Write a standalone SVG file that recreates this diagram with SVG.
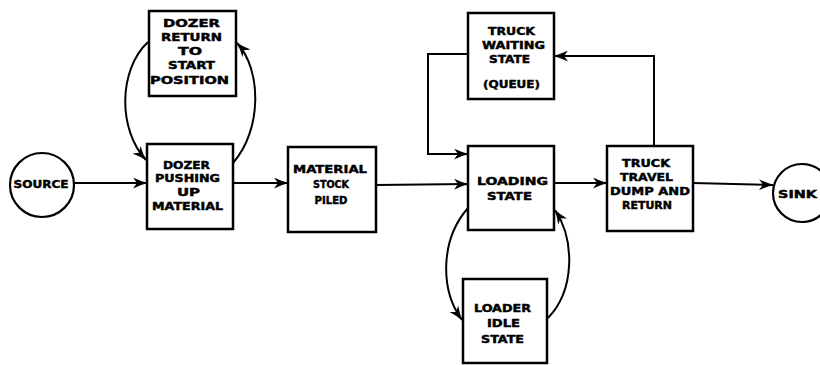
<svg xmlns="http://www.w3.org/2000/svg" width="820" height="365" viewBox="0 0 820 365">
<style>
.box{fill:#fff;stroke:#000;stroke-width:2.5}
.c{fill:#fff;stroke:#000;stroke-width:2.2}
.ln{fill:none;stroke:#000;stroke-width:2}
text{font-family:"DejaVu Sans","Liberation Sans",sans-serif;font-weight:bold;font-size:10.5px;fill:#000;stroke:#000;stroke-width:0.45;text-anchor:middle}
</style>
<defs>
<marker id="ah" viewBox="0 0 15 11" refX="14" refY="5.5" markerWidth="15" markerHeight="11" markerUnits="userSpaceOnUse" orient="auto">
<path d="M0,0 Q8,4 15,5.5 Q8,7 0,11 L4,5.5 z" fill="#000"/>
</marker>
</defs>
<rect width="820" height="365" fill="#fff"/>
<g id="connectors">
<line class="ln" x1="74" y1="183" x2="147" y2="183" marker-end="url(#ah)"/>
<line class="ln" x1="233" y1="183" x2="288" y2="183" marker-end="url(#ah)"/>
<line class="ln" x1="376" y1="185" x2="468" y2="184" marker-end="url(#ah)"/>
<line class="ln" x1="554" y1="183" x2="607" y2="183" marker-end="url(#ah)"/>
<line class="ln" x1="693" y1="183" x2="773" y2="185" marker-end="url(#ah)"/>
<polyline class="ln" points="468,54 428,54 428,154 468,154" marker-end="url(#ah)"/>
<polyline class="ln" points="654,146 654,56 554,56" marker-end="url(#ah)"/>
<path class="ln" d="M148,42 C118,70 118,130 146,160" marker-end="url(#ah)"/>
<path class="ln" d="M233,163 C262,130 262,70 237,43" marker-end="url(#ah)"/>
<path class="ln" d="M468,208 C440,240 440,290 462,320" marker-end="url(#ah)"/>
<path class="ln" d="M548,318 C575,290 575,240 555,210" marker-end="url(#ah)"/>
</g>
<g id="source">
<circle class="c" cx="42" cy="185" r="32"/>
<text x="41" y="188" textLength="55" lengthAdjust="spacingAndGlyphs">SOURCE</text>
</g>
<g id="dozer-return">
<rect class="box" x="149" y="11" width="87" height="85"/>
<text x="191.5" y="27" textLength="57" lengthAdjust="spacingAndGlyphs">DOZER</text>
<text x="191.5" y="41" textLength="61" lengthAdjust="spacingAndGlyphs">RETURN</text>
<text x="190" y="55" textLength="24" lengthAdjust="spacingAndGlyphs">TO</text>
<text x="191.5" y="69" textLength="47" lengthAdjust="spacingAndGlyphs">START</text>
<text x="189.5" y="84" textLength="79" lengthAdjust="spacingAndGlyphs">POSITION</text>
</g>
<g id="dozer-pushing">
<rect class="box" x="147" y="144" width="86" height="85"/>
<text x="186.5" y="169" textLength="47" lengthAdjust="spacingAndGlyphs">DOZER</text>
<text x="187.5" y="182" textLength="65" lengthAdjust="spacingAndGlyphs">PUSHING</text>
<text x="188.5" y="196" textLength="23" lengthAdjust="spacingAndGlyphs">UP</text>
<text x="187.5" y="210" textLength="71" lengthAdjust="spacingAndGlyphs">MATERIAL</text>
</g>
<g id="material-stock">
<rect class="box" x="288" y="147" width="88" height="85"/>
<text x="330" y="173" textLength="74" lengthAdjust="spacingAndGlyphs">MATERIAL</text>
<text x="331" y="188" textLength="36" lengthAdjust="spacingAndGlyphs">STOCK</text>
<text x="331" y="204" textLength="33" lengthAdjust="spacingAndGlyphs">PILED</text>
</g>
<g id="truck-waiting">
<rect class="box" x="468" y="13" width="86" height="86"/>
<text x="511.5" y="35" textLength="47" lengthAdjust="spacingAndGlyphs">TRUCK</text>
<text x="513.5" y="49" textLength="63" lengthAdjust="spacingAndGlyphs">WAITING</text>
<text x="509.5" y="63" textLength="41" lengthAdjust="spacingAndGlyphs">STATE</text>
<text x="511.5" y="88" textLength="57" lengthAdjust="spacingAndGlyphs">(QUEUE)</text>
</g>
<g id="loading">
<rect class="box" x="468" y="146" width="86" height="84"/>
<text x="512.5" y="185" textLength="71" lengthAdjust="spacingAndGlyphs">LOADING</text>
<text x="509.5" y="200" textLength="45" lengthAdjust="spacingAndGlyphs">STATE</text>
</g>
<g id="truck-travel">
<rect class="box" x="607" y="146" width="86" height="85"/>
<text x="646" y="167" textLength="48" lengthAdjust="spacingAndGlyphs">TRUCK</text>
<text x="646.5" y="181" textLength="53" lengthAdjust="spacingAndGlyphs">TRAVEL</text>
<text x="650" y="195" textLength="80" lengthAdjust="spacingAndGlyphs">DUMP AND</text>
<text x="647" y="209" textLength="50" lengthAdjust="spacingAndGlyphs">RETURN</text>
</g>
<g id="loader-idle">
<rect class="box" x="463" y="279" width="84" height="84"/>
<text x="502.5" y="312" textLength="57" lengthAdjust="spacingAndGlyphs">LOADER</text>
<text x="503.5" y="327" textLength="33" lengthAdjust="spacingAndGlyphs">IDLE</text>
<text x="502.5" y="343" textLength="43" lengthAdjust="spacingAndGlyphs">STATE</text>
</g>
<g id="sink">
<circle class="c" cx="802" cy="193" r="29"/>
<text x="797.5" y="198" textLength="39" lengthAdjust="spacingAndGlyphs">SINK</text>
</g>
</svg>
